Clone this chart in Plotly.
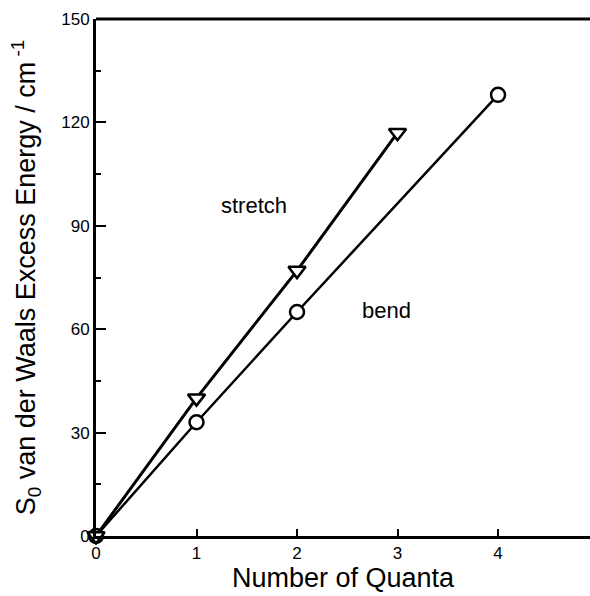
import plotly.graph_objects as go

stretch_x = [0, 1, 2, 3]
stretch_y = [0, 40, 77, 117]
bend_x = [0, 1, 2, 4]
bend_y = [0, 33, 65, 128]
x_ticks = [0, 1, 2, 3, 4]
y_ticks = [0, 30, 60, 90, 120, 150]

FONT = "Liberation Sans, Arial, Helvetica, sans-serif"

fig = go.Figure()
fig.add_trace(go.Scatter(
    x=bend_x, y=bend_y, mode="lines+markers",
    line=dict(color="black", width=2.5),
    marker=dict(symbol="circle", size=14, color="white", line=dict(color="black", width=2.5)),
    cliponaxis=False, showlegend=False))
fig.add_trace(go.Scatter(
    x=stretch_x, y=stretch_y, mode="lines+markers",
    line=dict(color="black", width=3),
    marker=dict(symbol="triangle-down", size=15, color="white", line=dict(color="black", width=2.5)),
    cliponaxis=False, showlegend=False))

fig.add_annotation(x=1.57, y=96, text="stretch", showarrow=False,
                   font=dict(family=FONT, size=22, color="black"))
fig.add_annotation(x=2.89, y=65.5, text="bend", showarrow=False,
                   font=dict(family=FONT, size=22, color="black"))

# top frame line
fig.add_shape(type="line", xref="paper", yref="paper", x0=0, x1=1, y0=1, y1=1,
              line=dict(color="black", width=3))

fig.update_layout(
    width=590, height=596,
    margin=dict(l=96, r=0, t=19, b=60, pad=0),
    plot_bgcolor="white", paper_bgcolor="white",
    font=dict(family=FONT, color="black"),
    xaxis=dict(range=[0, 4.915], tickvals=x_ticks, ticks="inside", ticklen=7, tickwidth=1.5,
               tickcolor="black", showline=True, linecolor="black", linewidth=3, mirror=False,
               showgrid=False, zeroline=False, tickfont=dict(size=17),
               title=dict(text="Number of Quanta", font=dict(size=27), standoff=6)),
    yaxis=dict(range=[0, 150], tickvals=y_ticks, ticks="inside", ticklen=10, tickwidth=1.5,
               tickcolor="black", showline=True, linecolor="black", linewidth=3, mirror=False,
               showgrid=False, zeroline=False, tickfont=dict(size=17),
               minor=dict(ticks="inside", ticklen=5, dtick=15, tickwidth=1.5, tickcolor="black", showgrid=False),
               title=dict(text="S<sub>0</sub> van der Waals Excess Energy / cm<sup> -1</sup>",
                          font=dict(size=27), standoff=18)),
)

fig.write_html("out.html", config={"displayModeBar": False})
